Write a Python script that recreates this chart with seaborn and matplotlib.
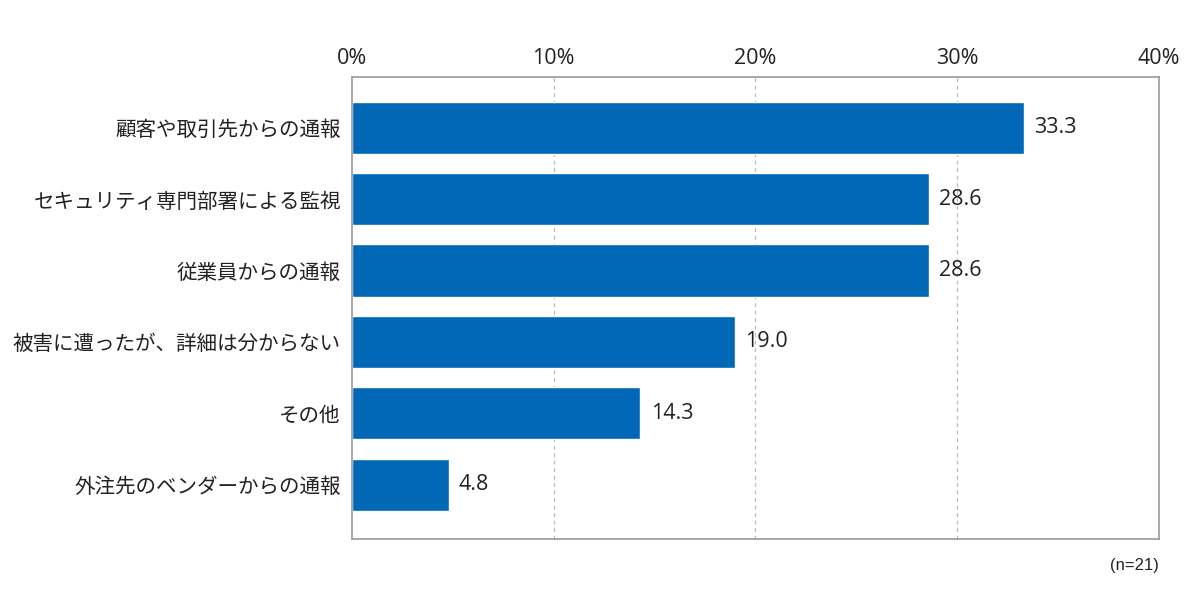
import matplotlib
matplotlib.use("Agg")
import matplotlib.pyplot as plt
import seaborn as sns
import pandas as pd

# data
categories = [
    "顧客や取引先からの通報",
    "セキュリティ専門部署による監視",
    "従業員からの通報",
    "被害に遭ったが、詳細は分からない",
    "その他",
    "外注先のベンダーからの通報",
]
values = [33.3, 28.6, 28.6, 19.0, 14.3, 4.8]
x_ticks = [0, 10, 20, 30, 40]
x_tick_labels = ["0%", "10%", "20%", "30%", "40%"]
note = "(n=21)"

df = pd.DataFrame({"category": categories, "value": values})

sns.set_style("white")
plt.rcParams["font.family"] = ["Noto Sans CJK JP", "DejaVu Sans"]

fig = plt.figure(figsize=(12, 5.95), dpi=100)
ax = fig.add_axes([0.2933, 0.0941, 0.6725, 0.7765])

sns.barplot(data=df, x="value", y="category", orient="h", color="#0068b7",
            saturation=1, width=0.73, ax=ax)

ax.set_xlim(0, 40)
ax.set_ylim(5.76, -0.71)
ax.set_xticks(x_ticks)
ax.set_xticklabels(x_tick_labels, fontsize=15.5, color="#222222", family="Open Sans")
ax.xaxis.tick_top()
ax.tick_params(axis="x", length=0, pad=6)
ax.tick_params(axis="y", length=0, pad=8, labelsize=14.8, labelcolor="#222222")
ax.set_xlabel("")
ax.set_ylabel("")

# dashed gridlines
for t in x_ticks[1:-1]:
    ax.axvline(t, color="#b8b8c0", linestyle=(0, (3, 3)), linewidth=0.9, zorder=0)

for s in ax.spines.values():
    s.set_color("#999999")
    s.set_linewidth(1.2)

# value labels
for i, v in enumerate(values):
    ax.text(v + 0.5, i, f"{v:.1f}", va="center", ha="left", fontsize=15.5,
            family="Open Sans", color="#222222")

fig.text(0.9658, 0.05, note, ha="right", va="center", fontsize=12,
         family="Liberation Sans", color="#222222")

fig.savefig("out.png", dpi=100)
